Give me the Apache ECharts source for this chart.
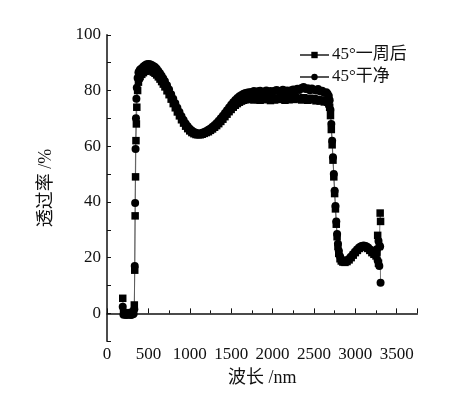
<!DOCTYPE html>
<html>
<head>
<meta charset="utf-8">
<script src="https://cdn.jsdelivr.net/npm/echarts@6/dist/echarts.min.js"></script>
<style>
  html, body { margin: 0; padding: 0; background: #fff; }
  #chart { width: 466px; height: 398px; }
</style>
</head>
<body>
<div id="chart"></div>
<script>
  // wavelength (nm)
  var wavelength = [
    190, 200, 215, 230, 245, 260, 275, 290, 305, 320,
    330, 335, 340, 345, 350, 355, 360, 370, 380, 390,
    400, 420, 440, 460, 480, 500, 520, 540, 560, 580,
    600, 620, 640, 660, 680, 700, 725, 750, 775, 800,
    825, 850, 875, 900, 925, 950, 975, 1000, 1025, 1050,
    1075, 1100, 1125, 1150, 1175, 1200, 1225, 1250, 1275, 1300,
    1325, 1350, 1375, 1400, 1425, 1450, 1475, 1500, 1525, 1550,
    1575, 1600, 1625, 1650, 1675, 1700, 1725, 1750, 1775, 1800,
    1825, 1850, 1875, 1900, 1925, 1950, 1975, 2000, 2025, 2050,
    2075, 2100, 2125, 2150, 2175, 2200, 2225, 2250, 2275, 2300,
    2325, 2350, 2375, 2400, 2425, 2450, 2475, 2500, 2525, 2550,
    2575, 2600, 2625, 2650, 2665, 2680, 2690, 2700, 2710, 2720,
    2730, 2740, 2750, 2760, 2770, 2780, 2790, 2800, 2815, 2830,
    2850, 2875, 2900, 2925, 2950, 2975, 3000, 3025, 3050, 3075,
    3100, 3125, 3150, 3175, 3200, 3225, 3250, 3260, 3270, 3280,
    3290, 3300, 3305
  ];

  // 45° 一周后 (squares)
  var afterWeek = [
    5.4, 0.3, -0.2, 0.0, -0.3, 0.2, -0.1, 0.0, 0.3, 0.5,
    3.0, 15.5, 35.0, 49.0, 62.0, 68.0, 74.0, 80.0, 83.0, 84.5,
    85.0, 85.8, 86.4, 86.9, 87.2, 87.3, 87.2, 87.0, 86.6, 86.2,
    85.6, 84.9, 84.1, 83.2, 82.3, 81.3, 79.9, 78.5, 76.9, 75.3,
    73.8, 72.3, 70.9, 69.5, 68.3, 67.2, 66.3, 65.5, 64.9, 64.5,
    64.2, 64.1, 64.1, 64.3, 64.6, 64.9, 65.2, 65.7, 66.2, 66.8,
    67.4, 68.1, 68.9, 69.7, 70.6, 71.5, 72.4, 73.2, 74.0, 74.7,
    75.3, 75.8, 76.2, 76.5, 76.7, 76.8, 76.9, 77.0, 76.6, 77.2,
    76.8, 76.5, 77.1, 76.7, 77.3, 76.9, 76.4, 77.0, 76.6, 77.2,
    76.8, 77.4, 76.9, 76.5, 77.1, 76.7, 77.3, 76.8, 77.5, 76.9,
    77.3, 76.6, 77.4, 77.0, 76.5, 77.2, 76.7, 77.1, 76.3, 76.8,
    76.2, 76.6, 75.9, 76.3, 75.8, 75.2, 74.0, 71.0, 66.0, 60.5,
    55.0, 49.0, 43.0, 37.5, 32.0, 27.5, 24.0, 21.5, 19.6, 18.8,
    18.4, 18.3, 18.6, 19.2, 20.0, 20.9, 21.8, 22.6, 23.3, 23.8,
    24.0, 23.8, 23.3, 22.6, 21.8, 21.2, 20.6, 22.0, 28.0, 18.0,
    24.0, 36.0, 33.0
  ];

  // 45° 干净 (circles)
  var clean = [
    2.4, -0.5, -0.3, -0.6, -0.4, -0.5, -0.3, -0.6, -0.4, -0.2,
    1.5, 17.0, 39.6, 59.0, 70.0, 77.0, 81.0, 84.5, 86.5, 87.0,
    87.5, 88.0, 88.6, 89.1, 89.4, 89.5, 89.4, 89.2, 88.8, 88.4,
    87.8, 87.0, 86.2, 85.3, 84.3, 83.3, 81.9, 80.4, 78.7, 77.0,
    75.4, 73.8, 72.3, 70.8, 69.4, 68.2, 67.2, 66.3, 65.6, 65.1,
    64.8, 64.6, 64.6, 64.8, 65.1, 65.5, 65.9, 66.4, 67.0, 67.6,
    68.3, 69.1, 70.0, 70.9, 71.9, 72.9, 73.9, 74.9, 75.8, 76.6,
    77.3, 77.9, 78.4, 78.8, 79.1, 79.3, 79.4, 79.5, 79.8, 79.4,
    79.7, 79.9, 79.3, 79.6, 80.0, 79.5, 79.8, 79.4, 79.9, 80.2,
    79.6, 79.8, 80.3, 79.7, 80.0, 79.5, 80.1, 80.4, 79.8, 80.6,
    80.2, 80.9, 81.3, 80.5, 80.8, 80.1, 80.7, 80.3, 80.0, 80.5,
    79.7, 79.9, 79.2, 79.4, 78.8, 78.0, 76.5, 73.0, 68.0, 62.0,
    56.0, 50.0, 44.0, 38.5, 33.0, 28.5, 25.0, 22.5, 20.5, 19.5,
    19.0, 18.8, 19.0, 19.6, 20.4, 21.3, 22.2, 23.0, 23.7, 24.2,
    24.4, 24.2, 23.7, 23.0, 22.4, 22.0, 21.5, 23.0, 19.0, 26.0,
    17.0, 24.0, 11.0
  ];

  var seriesNames = ['45°一周后', '45°干净'];
  var yLabels = [0, 20, 40, 60, 80, 100];
  var xLabels = [0, 500, 1000, 1500, 2000, 2500, 3000, 3500];

  function pairs(ys) {
    return wavelength.map(function (x, i) { return [x, ys[i]]; });
  }

  var font = "'Liberation Serif', 'Noto Sans CJK SC', serif";

  var chart = echarts.init(document.getElementById('chart'));
  chart.setOption({
    animation: false,
    backgroundColor: '#fff',
    grid: { left: 107, right: 48.6, top: 34.8, bottom: 56.8 },
    legend: {
      orient: 'vertical',
      left: 294,
      top: 41,
      itemWidth: 29,
      itemHeight: 8,
      itemGap: 4,
      textStyle: { fontFamily: font, fontSize: 17, lineHeight: 18, color: '#111', padding: [0, 0, 0, -2] },
      data: seriesNames
    },
    xAxis: {
      type: 'value',
      min: 0,
      max: 3750,
      interval: 500,
      name: '波长 /nm',
      nameLocation: 'middle',
      nameGap: 28,
      nameTextStyle: { fontFamily: font, fontSize: 18, color: '#111' },
      axisLine: { lineStyle: { color: '#111', width: 1.5 } },
      axisTick: { inside: true, length: 5, lineStyle: { color: '#111' } },
      minorTick: { show: true, splitNumber: 2, length: 3, lineStyle: { color: '#111' } },
      splitLine: { show: false },
      axisLabel: {
        margin: 5,
        fontFamily: font,
        fontSize: 17,
        color: '#111',
        formatter: function (v) { return xLabels.indexOf(v) >= 0 ? String(v) : ''; }
      }
    },
    yAxis: {
      type: 'value',
      min: -10,
      max: 100,
      interval: 10,
      name: '透过率 /%',
      nameLocation: 'middle',
      nameGap: 52,
      nameRotate: 90,
      nameTextStyle: { fontFamily: font, fontSize: 18, color: '#111' },
      axisLine: { lineStyle: { color: '#111', width: 1.5 } },
      axisTick: { inside: true, length: 4, lineStyle: { color: '#111' } },
      splitLine: { show: false },
      axisLabel: {
        margin: 6,
        fontFamily: font,
        fontSize: 17,
        color: '#111',
        formatter: function (v) { return yLabels.indexOf(v) >= 0 ? String(v) : ''; }
      }
    },
    series: [
      {
        name: seriesNames[0],
        type: 'line',
        data: pairs(afterWeek),
        symbol: 'rect',
        symbolSize: 7.5,
        itemStyle: { color: '#000' },
        lineStyle: { color: '#555', width: 0.8 }
      },
      {
        name: seriesNames[1],
        type: 'line',
        data: pairs(clean),
        symbol: 'circle',
        symbolSize: 8,
        itemStyle: { color: '#000' },
        lineStyle: { color: '#555', width: 0.8 }
      }
    ]
  });
</script>
</body>
</html>
